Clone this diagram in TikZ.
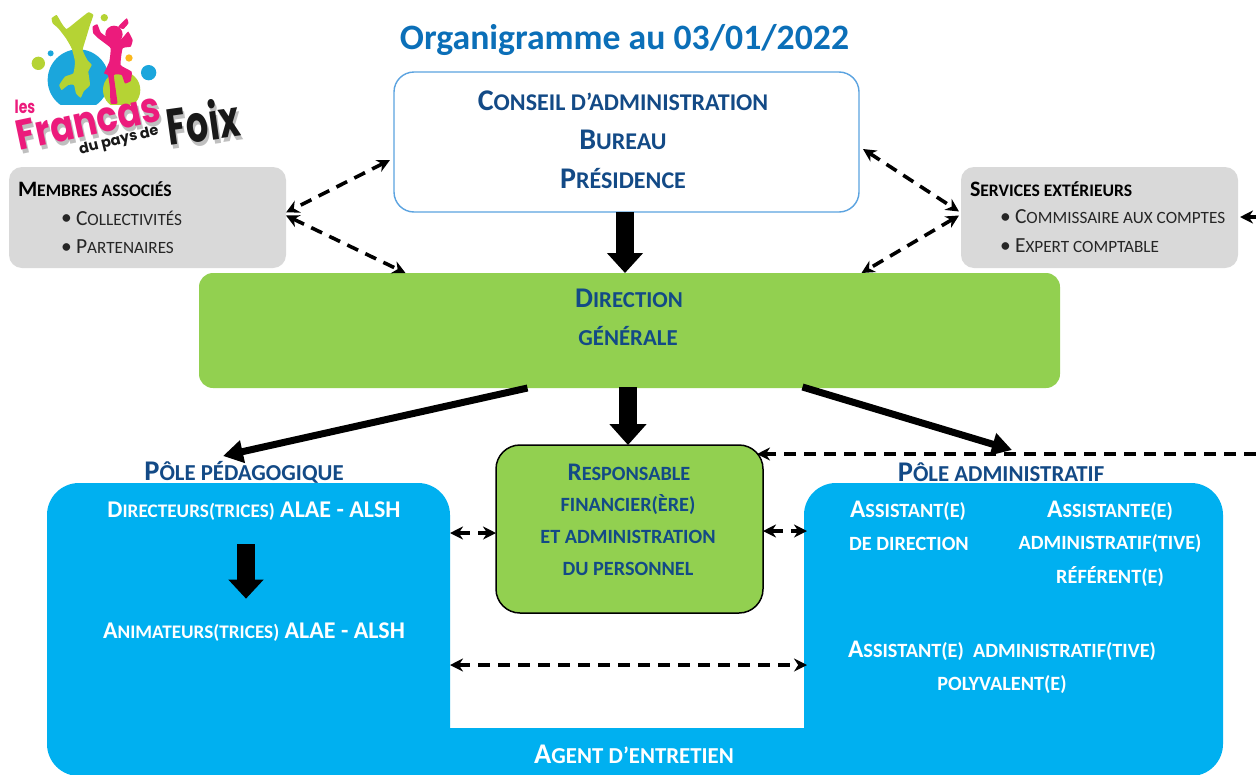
\documentclass[tikz,border=0pt]{standalone}
\usepackage{fontspec}
\setmainfont{Carlito}
\newfontfamily\logofont{Poppins}
\usetikzlibrary{arrows.meta,calc}
\makeatletter
\newcommand\lc[1]{{\fontsize{\fpeval{0.8*\f@size}}{\f@baselineskip}\selectfont\MakeUppercase{#1}}}
\makeatother
\definecolor{titleblue}{HTML}{0B6FB8}
\definecolor{navy}{HTML}{134A86}
\definecolor{cgreen}{HTML}{92D050}
\definecolor{cblue}{HTML}{00B0F0}
\definecolor{cgrey}{HTML}{D9D9D9}
\definecolor{cborder}{HTML}{5BA3E0}
\definecolor{lgreen}{HTML}{B5D334}
\definecolor{lblue}{HTML}{1BA6DC}
\definecolor{lpink}{HTML}{EC1B7C}
\definecolor{lorange}{HTML}{FBB81C}
\tikzset{
  box/.style={inner sep=0pt,outer sep=0pt},
  lab/.style={inner sep=0pt,outer sep=0pt,anchor=center,font=\bfseries\fontsize{#1}{#1}\selectfont},
  navylab/.style={lab=#1,text=navy},
  whitelab/.style={lab=#1,text=white},
  itemlab/.style={inner sep=0pt,outer sep=0pt,anchor=west,text=black!85,font=\fontsize{21.5}{21.5}\selectfont},
  headlab/.style={inner sep=0pt,outer sep=0pt,anchor=west,text=black,font=\bfseries\fontsize{22}{22}\selectfont},
  dashar/.style={draw=black,line width=3.6pt,dash pattern=on 12pt off 8pt,{Stealth[length=13pt,width=13pt]}-{Stealth[length=13pt,width=13pt]}},
  dashsingle/.style={draw=black,line width=3.6pt,dash pattern=on 12pt off 8pt,-{Stealth[length=13pt,width=13pt]}},
  block/.style={draw=black,line width=#1},
  logotxt/.style={inner sep=0pt,transform shape}
}
\begin{document}
\begin{tikzpicture}[x=1pt,y=-1pt]
\useasboundingbox (0,0) rectangle (1256,774);
\fill[white] (0,0) rectangle (1256,774);

% logo
\begin{scope}[shift={(10,5)},x=0.3333pt,y=-0.3333pt]
  \begin{scope}
    \clip (0,0) rectangle (480,300);
    \fill[lblue] (205,225) circle[radius=92];
    \fill[lgreen] (335,255) circle[radius=56];
  \end{scope}
  \fill[lgreen] (85,175) circle[radius=20];
  \fill[lblue] (122,145) circle[radius=9];
  \fill[lgreen] (283,38) circle[radius=11];
  \fill[lorange] (357,159) circle[radius=11];
  \fill[lblue] (416,203) circle[radius=23];
  \fill[lgreen] plot[smooth cycle,tension=0.25] coordinates {(125,40)(140,30)(155,55)(170,72)(205,45)(235,22)(250,30)(240,60)(228,100)(218,135)(232,165)(245,180)(235,200)(240,240)(222,258)(212,278)(198,265)(192,240)(175,240)(155,255)(148,240)(165,215)(190,205)(195,170)(185,130)(168,100)(145,70)(128,55)};
  \fill[lpink] (312,88) circle[radius=26];
  \fill[lpink] plot[smooth cycle,tension=0.25] coordinates {(248,65)(262,58)(272,82)(290,95)(330,105)(345,90)(355,80)(368,105)(362,125)(338,130)(332,180)(365,200)(362,228)(345,235)(335,210)(312,210)(318,260)(322,295)(302,295)(300,250)(294,210)(282,205)(298,170)(302,130)(285,115)(265,100)(250,85)};
  \fill[lpink] plot[smooth cycle,tension=0.3] coordinates {(325,65)(350,40)(355,55)(340,72)};
\end{scope}
\node[logotxt,text=black!25,rotate=12,yscale=1.2,font=\logofont\bfseries\fontsize{35}{35}\selectfont] (francasS) at (90,125) {Francas};
\node[logotxt,text=black!25,rotate=8,yscale=1.45,font=\logofont\bfseries\fontsize{35}{35}\selectfont] (foixS) at (205,125) {Foix};
\node[logotxt,text=lpink,yscale=1.3,font=\logofont\bfseries\fontsize{14}{14}\selectfont] (les) at (25,107) {les};
\node[logotxt,text=lpink,rotate=12,yscale=1.2,font=\logofont\bfseries\fontsize{35}{35}\selectfont] (francas) at (88,121) {Francas};
\node[logotxt,text=black!90,rotate=14,font=\logofont\bfseries\fontsize{14.5}{14.5}\selectfont] (dupays) at (119,141) {du pays de};
\node[logotxt,text=black!90,rotate=8,yscale=1.45,font=\logofont\bfseries\fontsize{35}{35}\selectfont] (foix) at (203,121) {Foix};

% title
\node[inner sep=0pt,text=titleblue,font=\bfseries\fontsize{35.7}{36}\selectfont] (title) at (624.5,40) {Organigramme au 03/01/2022};

% boxes
\node[box,draw=cborder,line width=1.4pt,fill=white,rounded corners=20pt,minimum width=465pt,minimum height=140pt] (conseil) at (626.5,142) {};
\node[box,fill=cgrey,rounded corners=13pt,minimum width=277pt,minimum height=101pt] (membres) at (147.5,217.5) {};
\node[box,fill=cgrey,rounded corners=13pt,minimum width=277pt,minimum height=101pt] (services) at (1099.5,217.5) {};
\node[box,fill=cgreen,rounded corners=14pt,minimum width=861pt,minimum height=115pt] (direction) at (629.5,330.5) {};
\node[box,draw=black,line width=1.5pt,fill=cgreen,rounded corners=24pt,minimum width=267pt,minimum height=168pt] (resp) at (629.5,529) {};

% blue U shape
\fill[cblue,rounded corners=32pt] (47,776) -- (47,483) -- (450,483) -- (450,600)
  [sharp corners] -- (450,728) -- (804,728) -- (804,600)
  [rounded corners=32pt] -- (804,483) -- (1223,483) -- (1223,776) -- cycle;
\coordinate (pedE) at (450,533);
\coordinate (admW) at (807,531);
\coordinate (pedE2) at (450,665);
\coordinate (admW2) at (807,665);
\coordinate (pedN) at (223,456);
\coordinate (admN) at (1012,450);
\coordinate (rightA) at (1256,217);
\coordinate (rightB) at (1256,454);

% texts
\node[navylab=30] (t1) at (623,101) {C\lc{onseil d’administration}};
\node[navylab=30] (t2) at (623,140) {B\lc{ureau}};
\node[navylab=30] (t3) at (623,179) {P\lc{résidence}};
\node[headlab] (m0) at (18,189) {M\lc{embres associés}};
\node[itemlab] (m1) at (76,218) {C\lc{ollectivités}};
\node[itemlab] (m2) at (76,247) {P\lc{artenaires}};
\node[itemlab] (mb1) at (61,220) {•};
\node[itemlab] (mb2) at (61,249) {•};
\node[headlab] (s0) at (970,189) {S\lc{ervices extérieurs}};
\node[itemlab] (s1) at (1015,217) {C\lc{ommissaire aux comptes}};
\node[itemlab] (s2) at (1015,246) {E\lc{xpert comptable}};
\node[itemlab] (sb1) at (1000,219) {•};
\node[itemlab] (sb2) at (1000,248) {•};
\node[navylab=28.5] (d1) at (629,298) {D\lc{irection}};
\node[navylab=28.5] (d2) at (628,336) {\lc{générale}};
\node[navylab=25.3] (r1) at (629,472) {R\lc{esponsable}};
\node[navylab=25.3] (r2) at (628,505) {\lc{financier(ère)}};
\node[navylab=25.3] (r3) at (628,537) {\lc{et administration}};
\node[navylab=25.3] (r4) at (628,569) {\lc{du personnel}};
\node[navylab=28.5] (p1) at (244,472) {P\lc{ôle pédagogique}};
\node[navylab=28.5] (p2) at (1001,472) {P\lc{ôle administratif}};
\node[whitelab=24] (w1) at (254,511) {D\lc{irecteurs(trices)} ALAE - ALSH};
\node[whitelab=24] (w2) at (254,632) {A\lc{nimateurs(trices)} ALAE - ALSH};
\node[whitelab=25.3] (w3) at (908,511) {A\lc{ssistant(e)}};
\node[whitelab=25.3] (w4) at (909,544) {\lc{de direction}};
\node[whitelab=25.3] (w5) at (1110,511) {A\lc{ssistante(e)}};
\node[whitelab=25.3] (w6) at (1110,544) {\lc{administratif(tive)}};
\node[whitelab=25.3] (w7) at (1110,577) {\lc{référent(e)}};
\node[whitelab=25.3] (w8) at (1002,651) {A\lc{ssistant(e)\ \ administratif(tive)}};
\node[whitelab=25.3] (w9) at (1002,685) {\lc{polyvalent(e)}};
\node[whitelab=28.5] (w10) at (634,754) {A\lc{gent d’entretien}};

% block arrows
\draw[block=18pt,-{Triangle[length=20pt,width=35pt]}] ([xshift=-1.5pt]conseil.south) -- ([xshift=-4.5pt]direction.north);
\draw[block=18pt,-{Triangle[length=21pt,width=36pt]}] ([xshift=-1.5pt,yshift=1pt]direction.south) -- ([xshift=-1.5pt]resp.north);
\draw[block=7pt,-{Triangle[length=20pt,width=22pt]}] ([xshift=-102pt]direction.south) -- (pedN);
\draw[block=7pt,-{Triangle[length=20pt,width=22pt]}] ([xshift=173pt,yshift=1pt]direction.south) -- (admN);
\draw[block=18pt,-{Triangle[length=19pt,width=34pt]}] ($(w1.south)+(-8,24)$) -- ($(w2.north)+(-8,-24)$);

% dashed arrows
\draw[dashar] ([shift={(-4pt,-18pt)}]conseil.west) -- ([yshift=5pt]membres.east);
\draw[dashar] ([yshift=2pt]membres.east) -- ([xshift=-224pt]direction.north);
\draw[dashar] ([shift={(4pt,-7pt)}]conseil.east) -- ([shift={(-2pt,6pt)}]services.west);
\draw[dashar] ([shift={(-2pt,2pt)}]services.west) -- ([xshift=232pt]direction.north);
\draw[dashsingle] (rightA) -- ([xshift=2pt]services.east |- rightA);
\draw[dashsingle] (rightB) -- ([shift={(-6pt,75pt)}]resp.east);
\draw[dashar] (pedE) -- ([yshift=-4pt]resp.west);
\draw[dashar] ([yshift=-2pt]resp.east) -- (admW);
\draw[dashar] (pedE2) -- (admW2);
\end{tikzpicture}
\end{document}
